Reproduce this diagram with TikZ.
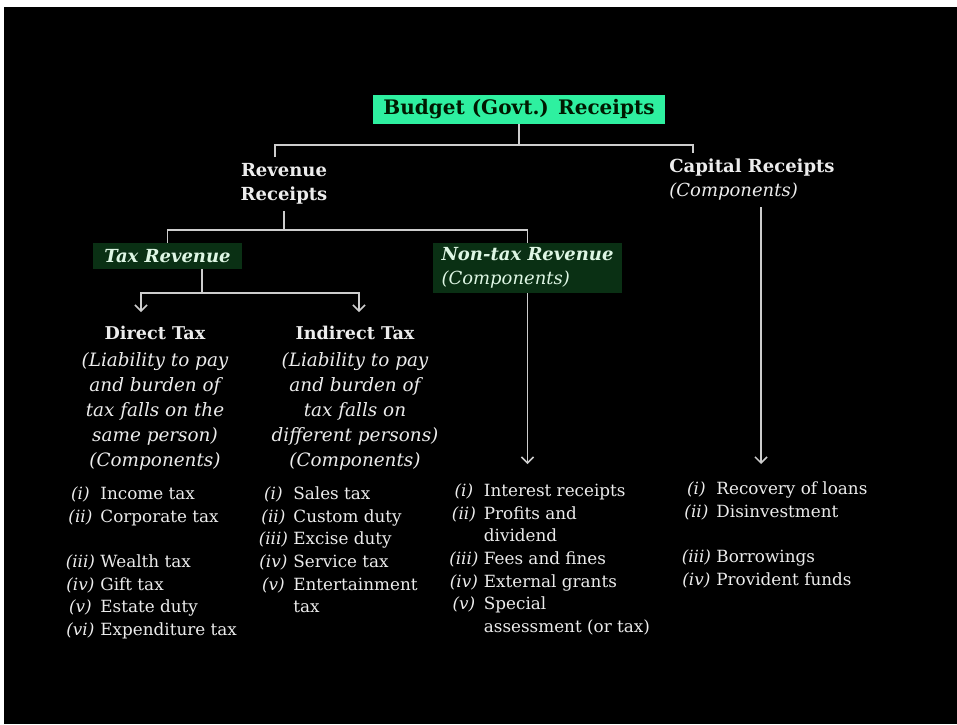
\documentclass[tikz,border=0pt]{standalone}
\usepackage{fontspec}
\setmainfont{DejaVu Serif}
\usetikzlibrary{arrows.meta, positioning, calc, matrix}

\definecolor{budgetgreen}{RGB}{46,240,160}
\definecolor{taxgreen}{RGB}{10,48,20}
\definecolor{inkwhite}{RGB}{236,236,236}
\definecolor{linegray}{RGB}{205,205,205}
\definecolor{mintwhite}{RGB}{222,246,228}

\begin{document}
\begin{tikzpicture}[x=0.5pt, y=-0.5pt,
    every node/.style={text=inkwhite},
    head/.style={font=\fontsize{9}{12}\selectfont\bfseries, align=center, inner sep=3pt},
    note/.style={align=center, inner sep=0pt, font=\fontsize{9.2}{12.5}\selectfont\itshape},
    greenbox/.style={fill=taxgreen, text=mintwhite, inner sep=0pt},
    link/.style={draw=linegray, line width=0.75pt},
    arr/.style={link, -{Straight Barb[length=3pt, width=6pt]}},
    items/.style={matrix of nodes, ampersand replacement=\&, inner sep=0pt,
        column sep=2.5pt, row sep=1.85pt,
        nodes={inner sep=0pt, text height=7pt, text depth=2.5pt,
            font=\fontsize{8.4}{10}\selectfont, anchor=base west},
        column 1/.style={nodes={minimum width=15pt, anchor=base,
            font=\fontsize{8.4}{10}\selectfont\itshape}}}
]
    % frame
    \fill[white] (0,0) rectangle (957,724);
    \fill[black] (4,7) rectangle (957,724);

    % top levels
    \node[fill=budgetgreen, text=black!90!green, minimum width=146pt, minimum height=14.5pt,
        inner sep=0pt, font=\fontsize{10}{11}\selectfont\bfseries] (budget) at (519,109.5)
        {Budget (Govt.) Receipts};
    \node[head] (rev) at (284,184) {Revenue\\Receipts};
    \node[head, align=left, anchor=west] (cap) at (663,180)
        {Capital Receipts\\{\mdseries\itshape (Components)}};

    \node[greenbox, minimum width=74.5pt, minimum height=13pt,
        font=\fontsize{9}{11}\selectfont\bfseries\itshape] (tax) at (167.5,256) {Tax Revenue};
    \node[greenbox, minimum width=94.5pt, minimum height=25pt, align=left,
        font=\fontsize{9}{12}\selectfont\itshape] (ntax) at (527.5,268)
        {\textbf{Non-tax Revenue}\\(Components)};

    \node[note, anchor=north] (dtax) at (155,326)
        {{\upshape\bfseries\fontsize{8.8}{12.5}\selectfont Direct Tax}\\[1pt]
         (Liability to pay\\and burden of\\tax falls on the\\same person)\\(Components)};
    \node[note, anchor=north] (itax) at (355,326)
        {{\upshape\bfseries\fontsize{8.8}{12.5}\selectfont Indirect Tax}\\[1pt]
         (Liability to pay\\and burden of\\tax falls on\\different persons)\\(Components)};

    % component lists
    \matrix[items, anchor=north west] (dlist) at (65,485) {
        (i) \& Income tax \\
        (ii) \& Corporate tax \\[11.35pt]
        (iii) \& Wealth tax \\
        (iv) \& Gift tax \\
        (v) \& Estate duty \\
        (vi) \& Expenditure tax \\
    };
    \matrix[items, anchor=north west] (ilist) at (258,485) {
        (i) \& Sales tax \\
        (ii) \& Custom duty \\
        (iii) \& Excise duty \\
        (iv) \& Service tax \\
        (v) \& Entertainment \\
        \& tax \\
    };
    \matrix[items, anchor=north west] (nlist) at (448.5,482) {
        (i) \& Interest receipts \\
        (ii) \& Profits and \\
        \& dividend \\
        (iii) \& Fees and fines \\
        (iv) \& External grants \\
        (v) \& Special \\
        \& assessment (or tax) \\
    };
    \matrix[items, anchor=north west] (clist) at (681,480) {
        (i) \& Recovery of loans \\
        (ii) \& Disinvestment \\[11.35pt]
        (iii) \& Borrowings \\
        (iv) \& Provident funds \\
    };

    % connectors
    \coordinate (bj) at (520,145);
    \coordinate (rj) at (284,230);
    \coordinate (tj) at (202,293);
    \coordinate (cd) at ($(cap.south west)+(98,0)$);
    \draw[link] (budget.south) -- (budget.south |- bj);
    \draw[link] ($(rev.north)+(-9,0)$) |- (bj) -| ($(cap.north west)+(30,0)$);
    \draw[link] (rev.south) -- (rj);
    \draw[link] (tax.north) |- (rj) -| (ntax.north);
    \draw[link] (tj |- tax.south) -- (tj);
    \draw[arr, shorten >=7pt] (tj) -| ($(dtax.north)+(-14,0)$);
    \draw[arr, shorten >=7pt] (tj) -| ($(itax.north)+(4,0)$);
    \draw[arr, shorten >=9pt] (ntax.south) -- (ntax.south |- nlist.north);
    \draw[arr, shorten >=8pt] (cd) -- (cd |- clist.north);
\end{tikzpicture}
\end{document}
